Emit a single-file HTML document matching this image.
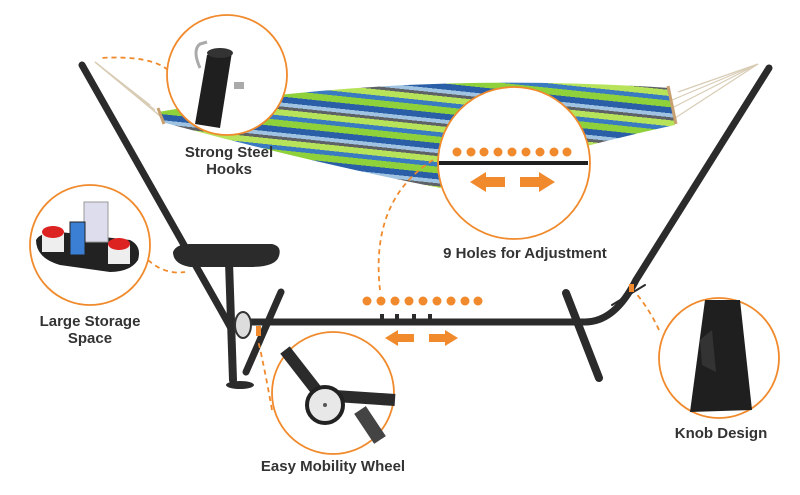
<!DOCTYPE html>
<html><head><meta charset="utf-8"><style>
html,body{margin:0;padding:0;background:#fff;}
svg{display:block;}
text{font-family:"Liberation Sans",Arial,sans-serif;font-weight:bold;fill:#333;}
</style></head><body>
<svg width="800" height="495" viewBox="0 0 800 495" xmlns="http://www.w3.org/2000/svg">
<defs>
<linearGradient id="st" x1="0" y1="0" x2="0" y2="1" spreadMethod="repeat" gradientUnits="userSpaceOnUse" gradientTransform="rotate(6) scale(1,30)">
<stop offset="0" stop-color="#8ed13a"/><stop offset="0.22" stop-color="#8ed13a"/>
<stop offset="0.22" stop-color="#2a5fa8"/><stop offset="0.42" stop-color="#2a5fa8"/>
<stop offset="0.42" stop-color="#9fc3e0"/><stop offset="0.55" stop-color="#9fc3e0"/>
<stop offset="0.55" stop-color="#5e6166"/><stop offset="0.65" stop-color="#5e6166"/>
<stop offset="0.65" stop-color="#b6e35a"/><stop offset="0.85" stop-color="#b6e35a"/>
<stop offset="0.85" stop-color="#3a7ac0"/><stop offset="1" stop-color="#3a7ac0"/>
</linearGradient>
</defs>
<rect width="800" height="495" fill="#fff"/>

<g stroke="#d8ccb5" stroke-width="1.2">
<line x1="95" y1="62" x2="155" y2="110"/><line x1="95" y1="62" x2="160" y2="116"/><line x1="95" y1="62" x2="165" y2="120"/><line x1="95" y1="62" x2="150" y2="105"/>
<line x1="758" y1="64" x2="672" y2="100"/><line x1="758" y1="64" x2="668" y2="110"/><line x1="758" y1="64" x2="672" y2="120"/><line x1="758" y1="64" x2="678" y2="92"/>
</g>
<path d="M158,112 Q400,70 670,88 L675,125 Q560,150 440,188 Q300,160 162,122 Z" fill="url(#st)"/>
<line x1="158" y1="108" x2="164" y2="124" stroke="#c8a070" stroke-width="3"/>
<line x1="668" y1="86" x2="676" y2="124" stroke="#c8a070" stroke-width="3"/>

<g stroke="#2b2b2b" stroke-linecap="round" fill="none">
<path d="M82,65 L222,312 L232,330" stroke-width="7"/>
<path d="M769,68 L636,280 Q615,322 585,322 L250,322" stroke-width="7"/>
<line x1="229" y1="262" x2="233" y2="380" stroke-width="8"/>
<line x1="281" y1="292" x2="246" y2="372" stroke-width="7"/>
<line x1="566" y1="293" x2="599" y2="378" stroke-width="8"/>
<path d="M612,305 L645,285" stroke-width="2"/>
</g>
<ellipse cx="240" cy="385" rx="14" ry="4" fill="#2b2b2b"/>
<path d="M173,252 Q176,244 190,244 L272,244 Q282,246 279,256 Q276,267 250,267 L190,267 Q173,264 173,252Z" fill="#2b2b2b"/>
<ellipse cx="243" cy="325" rx="8" ry="13" fill="#ddd" stroke="#333" stroke-width="2"/>
<rect x="256" y="326" width="5" height="10" fill="#f08a2c"/>
<rect x="629" y="284" width="5" height="8" fill="#f08a2c"/>
<g fill="#2b2b2b"><rect x="380" y="314" width="4" height="6"/><rect x="395" y="314" width="4" height="6"/><rect x="412" y="314" width="4" height="6"/><rect x="428" y="314" width="4" height="6"/></g>

<g fill="#f08a2c">
<circle cx="367" cy="301" r="4.5"/><circle cx="381" cy="301" r="4.5"/><circle cx="395" cy="301" r="4.5"/><circle cx="409" cy="301" r="4.5"/><circle cx="423" cy="301" r="4.5"/><circle cx="437" cy="301" r="4.5"/><circle cx="451" cy="301" r="4.5"/><circle cx="465" cy="301" r="4.5"/><circle cx="478" cy="301" r="4.5"/>
<path d="M385,338 L398,330 L398,334 L414,334 L414,342 L398,342 L398,346Z"/>
<path d="M458,338 L445,330 L445,334 L429,334 L429,342 L445,342 L445,346Z"/>
</g>

<g stroke="#f08a2c" stroke-width="1.8" stroke-dasharray="5,4" fill="none">
<path d="M168,70 Q150,55 100,58"/>
<path d="M433,160 Q370,200 380,290"/>
<path d="M148,260 Q165,275 185,272"/>
<path d="M272,410 Q265,370 258,340"/>
<path d="M659,330 Q650,310 635,292"/>
</g>

<g fill="#fff" stroke="#f08a2c" stroke-width="1.8">
<circle cx="227" cy="75" r="60"/>
<circle cx="514" cy="163" r="76"/>
<circle cx="90" cy="245" r="60"/>
<circle cx="333" cy="393" r="61"/>
<circle cx="719" cy="358" r="60"/>
</g>

<path d="M200,68 Q192,50 200,44 L207,42" stroke="#aaa" stroke-width="3" fill="none"/>
<path d="M207,55 L232,52 L220,128 L195,124Z" fill="#1f1f1f"/>
<ellipse cx="220" cy="53" rx="13" ry="5" fill="#333"/>
<rect x="234" y="82" width="10" height="7" fill="#aaa"/>

<line x1="439" y1="163" x2="588" y2="163" stroke="#1f1f1f" stroke-width="4"/>
<g fill="#f08a2c">
<circle cx="457" cy="152" r="4.5"/><circle cx="471" cy="152" r="4.5"/><circle cx="484" cy="152" r="4.5"/><circle cx="498" cy="152" r="4.5"/><circle cx="512" cy="152" r="4.5"/><circle cx="526" cy="152" r="4.5"/><circle cx="540" cy="152" r="4.5"/><circle cx="554" cy="152" r="4.5"/><circle cx="567" cy="152" r="4.5"/>
<path d="M470,182 L486,172 L486,177 L505,177 L505,187 L486,187 L486,192Z"/>
<path d="M555,182 L539,172 L539,177 L520,177 L520,187 L539,187 L539,192Z"/>
</g>

<path d="M36,240 Q40,232 60,232 L130,240 Q142,246 138,260 Q130,272 110,272 L60,265 Q36,258 36,240Z" fill="#222"/>
<rect x="84" y="202" width="24" height="40" fill="#dde" stroke="#999"/>
<rect x="70" y="222" width="15" height="33" fill="#3b7fd4" stroke="#222"/>
<rect x="42" y="232" width="22" height="20" fill="#eee"/><ellipse cx="53" cy="232" rx="11" ry="6" fill="#d22"/>
<rect x="108" y="244" width="22" height="20" fill="#eee"/><ellipse cx="119" cy="244" rx="11" ry="6" fill="#d22"/>

<path d="M285,350 L320,395 L395,400" stroke="#2b2b2b" stroke-width="12" fill="none"/>
<path d="M360,410 L380,440" stroke="#444" stroke-width="14"/>
<circle cx="325" cy="405" r="18" fill="#e8e8e8" stroke="#222" stroke-width="4"/>
<circle cx="325" cy="405" r="2" fill="#555"/>

<path d="M705,300 L740,300 L752,410 L690,412Z" fill="#1f1f1f"/>
<path d="M700,340 L712,330 L716,372 L702,365Z" fill="#333"/>

<g font-size="15">
<text x="229" y="157" text-anchor="middle">Strong Steel</text>
<text x="229" y="174" text-anchor="middle">Hooks</text>
<text x="525" y="258" text-anchor="middle">9 Holes for Adjustment</text>
<text x="90" y="326" text-anchor="middle">Large Storage</text>
<text x="90" y="343" text-anchor="middle">Space</text>
<text x="333" y="471" text-anchor="middle">Easy Mobility Wheel</text>
<text x="721" y="438" text-anchor="middle">Knob Design</text>
</g>
</svg>
</body></html>
